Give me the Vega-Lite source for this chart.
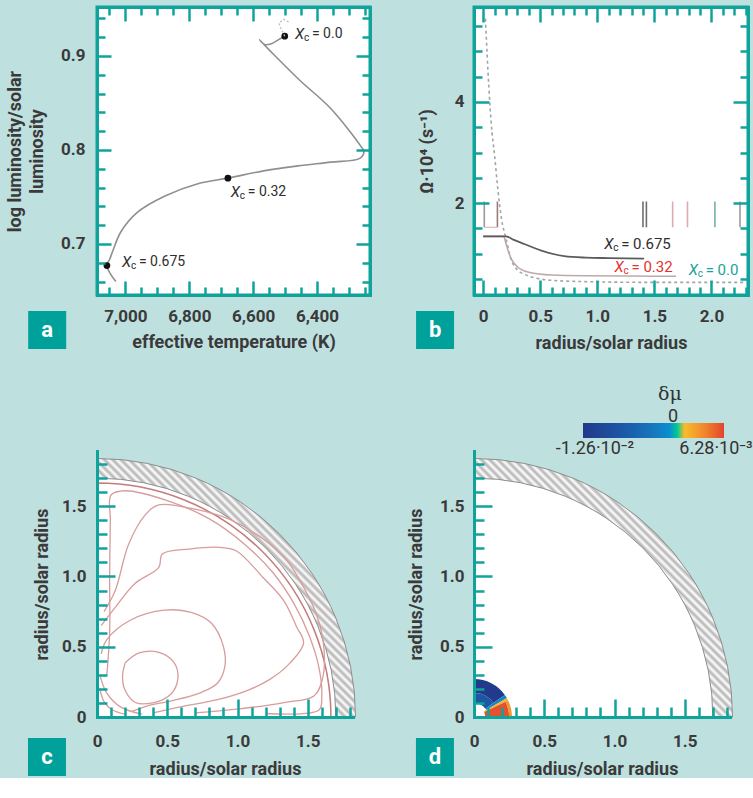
{
"$schema":"https://vega.github.io/schema/vega-lite/v6.json",
"background":"#bee0df",
"padding":{"left":5,"top":4,"right":0,"bottom":0},
"config":{
 "font":"Roboto",
 "view":{"stroke":null},
 "axis":{"zindex":1,"grid":false,"domainColor":"#0fa39b","domainWidth":3,"domainCap":"square","tickColor":"#0fa39b","tickWidth":2.5,"labelFont":"Roboto","labelFontSize":17,"labelFontWeight":"bold","labelColor":"#3a3a3a","labelOverlap":false,"labelFlush":false,"titleFont":"Roboto","titleFontSize":18,"titleFontWeight":"bold","titleColor":"#3a3a3a"}
},
"datasets":{
 "a_track":[{"i":1,"T":7030,"L":0.660},{"i":2,"T":7045,"L":0.667},{"i":3,"T":7058,"L":0.677},{"i":4,"T":7049,"L":0.684},{"i":5,"T":7039,"L":0.693},{"i":6,"T":7014,"L":0.713},{"i":7,"T":6961,"L":0.734},{"i":8,"T":6876,"L":0.751},{"i":9,"T":6773,"L":0.764},{"i":10,"T":6679,"L":0.770},{"i":11,"T":6563,"L":0.778},{"i":12,"T":6460,"L":0.783},{"i":13,"T":6357,"L":0.787},{"i":14,"T":6266,"L":0.791},{"i":15,"T":6253,"L":0.798},{"i":16,"T":6263,"L":0.804},{"i":17,"T":6357,"L":0.844},{"i":18,"T":6460,"L":0.876},{"i":19,"T":6580,"L":0.917},{"i":20,"T":6564,"L":0.912},{"i":21,"T":6543,"L":0.913},{"i":22,"T":6517,"L":0.918},{"i":23,"T":6501,"L":0.921}],
 "a_dash":[{"i":1,"T":6501,"L":0.921},{"i":2,"T":6513,"L":0.929},{"i":3,"T":6519,"L":0.935},{"i":4,"T":6505,"L":0.939},{"i":5,"T":6488,"L":0.936}],
 "a_dots":[{"T":7058,"L":0.677},{"T":6679,"L":0.770},{"T":6501,"L":0.921}],
 "a_labels":[{"T":7011,"L":0.681,"v":"= 0.675"},{"T":6670,"L":0.755,"v":"= 0.32"},{"T":6469,"L":0.923,"v":"= 0.0"}],
 "a_box":[{"T":7245,"L":0.6085,"lab":"a"}],
 "b_0675":[{"r":0,"om":1.34},{"r":0.2,"om":1.34},{"r":0.27,"om":1.27},{"r":0.36,"om":1.19},{"r":0.51,"om":1.06},{"r":0.71,"om":0.95},{"r":0.9,"om":0.92},{"r":1.1,"om":0.91},{"r":1.41,"om":0.9}],
 "b_032":[{"r":0,"om":1.34},{"r":0.18,"om":1.34},{"r":0.2,"om":1.2},{"r":0.22,"om":1.05},{"r":0.25,"om":0.88},{"r":0.3,"om":0.74},{"r":0.4,"om":0.63},{"r":0.6,"om":0.575},{"r":0.9,"om":0.56},{"r":1.3,"om":0.555},{"r":1.69,"om":0.55}],
 "b_00":[{"r":0.02,"om":5.65},{"r":0.05,"om":4.3},{"r":0.07,"om":3.6},{"r":0.1,"om":2.95},{"r":0.13,"om":2.25},{"r":0.16,"om":1.7},{"r":0.2,"om":1.3},{"r":0.25,"om":0.85},{"r":0.35,"om":0.6},{"r":0.6,"om":0.47},{"r":1,"om":0.44},{"r":1.5,"om":0.43},{"r":2,"om":0.43},{"r":2.32,"om":0.43}],
 "b_marks":[{"r":0.01,"g":"a"},{"r":0.125,"g":"b"},{"r":1.4,"g":"c"},{"r":1.43,"g":"c"},{"r":1.66,"g":"d"},{"r":1.79,"g":"d"},{"r":2.03,"g":"e"},{"r":2.25,"g":"a"}],
 "b_bracket":[{"r":0.01,"r2":0.125,"om":1.52}],
 "b_labels":[{"r":1.06,"om":1.19,"v":"= 0.675"},{"r":1.15,"om":0.73,"v":"= 0.32"},{"r":1.8,"om":0.67,"v":"= 0.0"}],
 "b_box":[{"r":-0.421,"om":-0.515,"lab":"b"}],
 "disk":[{"r1":1.7}],
 "shell":[{"r0":1.7,"r1":1.84}],
 "c_ring":[{"r1":1.665}],
 "c_cont":[
  {"id":1,"i":1,"x":0.2,"y":0.385},{"id":1,"i":2,"x":0.3,"y":0.456},{"id":1,"i":3,"x":0.44,"y":0.46},{"id":1,"i":4,"x":0.55,"y":0.385},{"id":1,"i":5,"x":0.575,"y":0.268},{"id":1,"i":6,"x":0.525,"y":0.162},{"id":1,"i":7,"x":0.405,"y":0.103},{"id":1,"i":8,"x":0.273,"y":0.103},{"id":1,"i":9,"x":0.197,"y":0.197},{"id":1,"i":10,"x":0.182,"y":0.29},{"id":1,"i":11,"x":0.2,"y":0.385},
  {"id":2,"i":1,"x":0.03,"y":0.45},{"id":2,"i":2,"x":0.07,"y":0.55},{"id":2,"i":3,"x":0.24,"y":0.69},{"id":2,"i":4,"x":0.48,"y":0.76},{"id":2,"i":5,"x":0.67,"y":0.745},{"id":2,"i":6,"x":0.815,"y":0.667},{"id":2,"i":7,"x":0.9,"y":0.5},{"id":2,"i":8,"x":0.91,"y":0.36},{"id":2,"i":9,"x":0.86,"y":0.244},{"id":2,"i":10,"x":0.74,"y":0.174},{"id":2,"i":11,"x":0.53,"y":0.115},{"id":2,"i":12,"x":0.36,"y":0.08},{"id":2,"i":13,"x":0.25,"y":0.04},
  {"id":3,"i":1,"x":0.03,"y":0.65},{"id":3,"i":2,"x":0.13,"y":0.78},{"id":3,"i":3,"x":0.27,"y":0.95},{"id":3,"i":4,"x":0.44,"y":1.065},{"id":3,"i":5,"x":0.465,"y":1.16},{"id":3,"i":6,"x":0.657,"y":1.195},{"id":3,"i":7,"x":0.873,"y":1.207},{"id":3,"i":8,"x":0.99,"y":1.183},{"id":3,"i":9,"x":1.18,"y":0.995},{"id":3,"i":10,"x":1.328,"y":0.83},{"id":3,"i":11,"x":1.42,"y":0.643},{"id":3,"i":12,"x":1.47,"y":0.526},{"id":3,"i":13,"x":1.35,"y":0.36},{"id":3,"i":14,"x":1.23,"y":0.268},{"id":3,"i":15,"x":1.09,"y":0.197},{"id":3,"i":16,"x":0.873,"y":0.127},{"id":3,"i":17,"x":0.585,"y":0.07},{"id":3,"i":18,"x":0.4,"y":0.03},
  {"id":4,"i":1,"x":0.05,"y":0.75},{"id":4,"i":2,"x":0.13,"y":0.9},{"id":4,"i":3,"x":0.225,"y":1.23},{"id":4,"i":4,"x":0.345,"y":1.44},{"id":4,"i":5,"x":0.44,"y":1.51},{"id":4,"i":6,"x":0.705,"y":1.477},{"id":4,"i":7,"x":0.945,"y":1.406},{"id":4,"i":8,"x":1.185,"y":1.265},{"id":4,"i":9,"x":1.352,"y":1.113},{"id":4,"i":10,"x":1.47,"y":0.925},{"id":4,"i":11,"x":1.568,"y":0.713},{"id":4,"i":12,"x":1.616,"y":0.479},{"id":4,"i":13,"x":1.604,"y":0.268},{"id":4,"i":14,"x":1.544,"y":0.15},{"id":4,"i":15,"x":1.33,"y":0.103},{"id":4,"i":16,"x":0.995,"y":0.056},{"id":4,"i":17,"x":0.7,"y":0.03},
  {"id":5,"i":1,"x":0.07,"y":0.3},{"id":5,"i":2,"x":0.09,"y":0.6},{"id":5,"i":3,"x":0.09,"y":1.0},{"id":5,"i":4,"x":0.095,"y":1.4},{"id":5,"i":5,"x":0.1,"y":1.58},{"id":5,"i":6,"x":0.2,"y":1.61},{"id":5,"i":7,"x":0.5,"y":1.54},{"id":5,"i":8,"x":0.8,"y":1.41},{"id":5,"i":9,"x":1.05,"y":1.23},{"id":5,"i":10,"x":1.25,"y":1.03},{"id":5,"i":11,"x":1.4,"y":0.81},{"id":5,"i":12,"x":1.51,"y":0.58},{"id":5,"i":13,"x":1.58,"y":0.35},{"id":5,"i":14,"x":1.6,"y":0.15},{"id":5,"i":15,"x":1.58,"y":0.05},{"id":5,"i":16,"x":1.2,"y":0.025},
  {"id":6,"i":1,"x":0.02,"y":0.3},{"id":6,"i":2,"x":0.07,"y":0.17},{"id":6,"i":3,"x":0.17,"y":0.07},{"id":6,"i":4,"x":0.32,"y":0.02},
  {"id":7,"i":1,"x":0.02,"y":0.2},{"id":7,"i":2,"x":0.05,"y":0.11},{"id":7,"i":3,"x":0.11,"y":0.05},{"id":7,"i":4,"x":0.2,"y":0.02}],
 "c_box":[{"x":-0.356,"y":-0.285,"lab":"c"}],
 "d_blob":[{"t0":0,"t1":0.95,"r0":0.17,"r1":0.27,"dmu":-0.0124},{"t0":0,"t1":0.95,"r0":0.1,"r1":0.17,"dmu":-0.0075},{"t0":0.95,"t1":1.05,"r0":0.1,"r1":0.27,"dmu":-0.002},{"t0":1.05,"t1":1.12,"r0":0.08,"r1":0.27,"dmu":0.0015},{"t0":1.12,"t1":1.5708,"r0":0.08,"r1":0.25,"dmu":0.0058},{"t0":1.12,"t1":1.5708,"r0":0.25,"r1":0.27,"dmu":0.003}],
 "d_mu":[{"x":1.395,"y":2.3,"t":"δμ"}],
 "d_zero":[{"x":1.416,"y":2.135,"t":"0"}],
 "d_cblab":[{"x":0.861,"y":1.907,"t":"-1.26·10⁻²"},{"x":1.722,"y":1.907,"t":"6.28·10⁻³"}],
 "d_box":[{"x":-0.278,"y":-0.285,"lab":"d"}]
},
"columns":2,
"spacing":{"row":156,"column":103},
"bounds":"flush",
"align":"all",
"concat":[
 {
  "width":273,"height":288,
  "view":{"stroke":"#0fa39b","strokeWidth":3,"fill":"white"},
  "resolve":{"axis":{"x":"independent","y":"independent"}},
  "layer":[
   {"data":{"name":"a_track"},"mark":{"type":"line","color":"#8f8f8f","strokeWidth":1.6,"interpolate":"catmull-rom"},
    "encoding":{
     "x":{"field":"T","type":"quantitative","scale":{"domain":[6234,7089],"reverse":true,"nice":false,"zero":false},
      "axis":{"zindex":1,"orient":"bottom","values":[7050,7000,6950,6900,6850,6800,6750,6700,6650,6600,6550,6500,6450,6400,6350,6300,6250],"labelExpr":"datum.value % 200 === 0 ? format(datum.value, ',') : ''","tickSize":{"condition":{"test":"datum.value % 200 === 0","value":-14},"value":-8},"labelPadding":27,"title":"effective temperature (K)","titlePadding":3}},
     "y":{"field":"L","type":"quantitative","scale":{"domain":[0.6457,0.952],"nice":false,"zero":false},
      "axis":{"zindex":1,"orient":"left","values":[0.66,0.68,0.7,0.72,0.74,0.76,0.78,0.8,0.82,0.84,0.86,0.88,0.9,0.92,0.94],"labelExpr":"abs(datum.value*10-round(datum.value*10))<0.001 ? format(datum.value,'.1f') : ''","tickSize":{"condition":{"test":"abs(datum.value*10-round(datum.value*10))<0.001","value":-14},"value":-8},"labelPadding":26,"title":["log luminosity/solar","luminosity"],"titlePadding":14,"titleLineHeight":22}},
     "order":{"field":"i","type":"quantitative"}}},
   {"data":{"name":"a_dots"},"mark":{"type":"point","filled":true,"color":"#111111","size":45,"opacity":1},
    "encoding":{
     "x":{"field":"T","type":"quantitative","axis":{"zindex":1,"orient":"top","values":[7050,7000,6950,6900,6850,6800,6750,6700,6650,6600,6550,6500,6450,6400,6350,6300,6250],"labels":false,"tickSize":{"condition":{"test":"datum.value % 200 === 0","value":-14},"value":-8},"title":null}},
     "y":{"field":"L","type":"quantitative","axis":{"zindex":1,"orient":"right","values":[0.66,0.68,0.7,0.72,0.74,0.76,0.78,0.8,0.82,0.84,0.86,0.88,0.9,0.92,0.94],"labels":false,"tickSize":{"condition":{"test":"abs(datum.value*10-round(datum.value*10))<0.001","value":-14},"value":-8},"title":null}}}},
   {"data":{"name":"a_dash"},"mark":{"type":"line","color":"#b8b8b8","strokeWidth":1.2,"strokeDash":[2,2]},
    "encoding":{"x":{"field":"T","type":"quantitative","axis":null},"y":{"field":"L","type":"quantitative","axis":null},"order":{"field":"i","type":"quantitative"}}},
   {"data":{"name":"a_labels"},"mark":{"type":"text","text":"X","font":"Roboto","fontStyle":"italic","fontSize":15,"align":"left","baseline":"middle","color":"#2e2e2e"},
    "encoding":{"x":{"field":"T","type":"quantitative","axis":null},"y":{"field":"L","type":"quantitative","axis":null}}},
   {"data":{"name":"a_labels"},"mark":{"type":"text","text":"c","font":"Roboto","fontSize":10,"dx":9,"dy":4,"align":"left","baseline":"middle","color":"#2e2e2e"},
    "encoding":{"x":{"field":"T","type":"quantitative","axis":null},"y":{"field":"L","type":"quantitative","axis":null}}},
   {"data":{"name":"a_labels"},"mark":{"type":"text","font":"Roboto","fontSize":14,"dx":17,"align":"left","baseline":"middle","color":"#2e2e2e"},
    "encoding":{"x":{"field":"T","type":"quantitative","axis":null},"y":{"field":"L","type":"quantitative","axis":null},"text":{"field":"v"}}},
   {"data":{"name":"a_box"},"mark":{"type":"point","shape":"square","filled":true,"size":1444,"color":"#00a19a","opacity":1},
    "encoding":{"x":{"field":"T","type":"quantitative","axis":null},"y":{"field":"L","type":"quantitative","axis":null}}},
   {"data":{"name":"a_box"},"mark":{"type":"text","font":"Roboto","fontWeight":"bold","fontSize":22,"color":"white","baseline":"middle","align":"center"},
    "encoding":{"x":{"field":"T","type":"quantitative","axis":null},"y":{"field":"L","type":"quantitative","axis":null},"text":{"field":"lab"}}}
  ]
 },
 {
  "width":274,"height":288,
  "view":{"stroke":"#0fa39b","strokeWidth":3,"fill":"white"},
  "resolve":{"axis":{"x":"independent","y":"independent"}},
  "layer":[
   {"data":{"name":"b_00"},"mark":{"type":"line","color":"#9ea6a6","strokeWidth":1.6,"strokeDash":[3,3],"interpolate":"monotone"},
    "encoding":{
     "x":{"field":"r","type":"quantitative","scale":{"domain":[-0.08,2.32],"nice":false,"zero":false},
      "axis":{"zindex":1,"orient":"bottom","values":[0,0.1,0.2,0.3,0.4,0.5,0.6,0.7,0.8,0.9,1,1.1,1.2,1.3,1.4,1.5,1.6,1.7,1.8,1.9,2,2.1,2.2,2.3],"labelExpr":"abs(datum.value*2-round(datum.value*2))<0.001 ? (datum.value === 0 ? '0' : format(datum.value,'.1f')) : ''","tickSize":{"condition":{"test":"abs(datum.value*2-round(datum.value*2))<0.001","value":-15},"value":-8},"labelPadding":28,"title":"radius/solar radius","titlePadding":3}},
     "y":{"field":"om","type":"quantitative","scale":{"domain":[0.18,5.88],"nice":false,"zero":false},
      "axis":{"zindex":1,"orient":"left","values":[0.5,1,1.5,2,2.5,3,3.5,4,4.5,5,5.5],"labelExpr":"datum.value % 2 === 0 ? format(datum.value,'d') : ''","tickSize":{"condition":{"test":"datum.value % 2 === 0","value":-15},"value":-8},"labelPadding":25,"title":"Ω·10⁴ (s⁻¹)","titlePadding":18}}}},
   {"data":{"name":"b_marks"},"mark":{"type":"rule","strokeWidth":1.6},
    "encoding":{
     "x":{"field":"r","type":"quantitative","axis":{"zindex":1,"orient":"top","values":[0,0.1,0.2,0.3,0.4,0.5,0.6,0.7,0.8,0.9,1,1.1,1.2,1.3,1.4,1.5,1.6,1.7,1.8,1.9,2,2.1,2.2,2.3],"labels":false,"tickSize":{"condition":{"test":"abs(datum.value*2-round(datum.value*2))<0.001","value":-15},"value":-8},"title":null}},
     "y":{"datum":1.52,"type":"quantitative","axis":{"zindex":1,"orient":"right","values":[0.5,1,1.5,2,2.5,3,3.5,4,4.5,5,5.5],"labels":false,"tickSize":{"condition":{"test":"datum.value % 2 === 0","value":-15},"value":-8},"title":null}},
     "y2":{"datum":2.03},
     "color":{"field":"g","type":"nominal","scale":{"domain":["a","b","c","d","e"],"range":["#9a9a9a","#9c7a7a","#6e6e6e","#dcaab2","#78b0a6"]},"legend":null}}},
   {"data":{"name":"b_bracket"},"mark":{"type":"rule","strokeWidth":1.2,"color":"#dcbcbc"},
    "encoding":{"x":{"field":"r","type":"quantitative","axis":null},"x2":{"field":"r2"},"y":{"field":"om","type":"quantitative","axis":null}}},
   {"data":{"name":"b_032"},"mark":{"type":"line","color":"#bcaaaa","strokeWidth":1.6,"interpolate":"monotone"},
    "encoding":{"x":{"field":"r","type":"quantitative","axis":null},"y":{"field":"om","type":"quantitative","axis":null}}},
   {"data":{"name":"b_0675"},"mark":{"type":"line","color":"#5c5c5c","strokeWidth":1.8,"interpolate":"monotone"},
    "encoding":{"x":{"field":"r","type":"quantitative","axis":null},"y":{"field":"om","type":"quantitative","axis":null}}},
   {"data":{"name":"b_labels"},"mark":{"type":"text","text":"X","font":"Roboto","fontStyle":"italic","fontSize":15,"align":"left","baseline":"middle"},
    "encoding":{"x":{"field":"r","type":"quantitative","axis":null},"y":{"field":"om","type":"quantitative","axis":null},
     "color":{"condition":[{"test":"datum.v === '= 0.32'","value":"#e2322d"},{"test":"datum.v === '= 0.0'","value":"#17a39a"}],"value":"#2e2e2e"}}},
   {"data":{"name":"b_labels"},"mark":{"type":"text","text":"c","font":"Roboto","fontSize":10,"dx":9,"dy":4,"align":"left","baseline":"middle"},
    "encoding":{"x":{"field":"r","type":"quantitative","axis":null},"y":{"field":"om","type":"quantitative","axis":null},
     "color":{"condition":[{"test":"datum.v === '= 0.32'","value":"#e2322d"},{"test":"datum.v === '= 0.0'","value":"#17a39a"}],"value":"#2e2e2e"}}},
   {"data":{"name":"b_labels"},"mark":{"type":"text","font":"Roboto","fontSize":15,"dx":17,"align":"left","baseline":"middle"},
    "encoding":{"x":{"field":"r","type":"quantitative","axis":null},"y":{"field":"om","type":"quantitative","axis":null},"text":{"field":"v"},
     "color":{"condition":[{"test":"datum.v === '= 0.32'","value":"#e2322d"},{"test":"datum.v === '= 0.0'","value":"#17a39a"}],"value":"#2e2e2e"}}},
   {"data":{"name":"b_box"},"mark":{"type":"point","shape":"square","filled":true,"size":1444,"color":"#00a19a","opacity":1},
    "encoding":{"x":{"field":"r","type":"quantitative","axis":null},"y":{"field":"om","type":"quantitative","axis":null}}},
   {"data":{"name":"b_box"},"mark":{"type":"text","font":"Roboto","fontWeight":"bold","fontSize":22,"color":"white","baseline":"middle","align":"center"},
    "encoding":{"x":{"field":"r","type":"quantitative","axis":null},"y":{"field":"om","type":"quantitative","axis":null},"text":{"field":"lab"}}}
  ]
 },
 {
  "width":256,"height":266,
  "resolve":{"axis":{"x":"independent","y":"independent"}},
  "layer":[
   {"data":{"name":"disk"},"mark":{"type":"arc","theta":0,"theta2":1.5708,"fill":"white","stroke":null},
    "encoding":{
     "x":{"datum":0,"type":"quantitative","axis":null},
     "y":{"datum":0,"type":"quantitative","axis":null},
     "radius":{"field":"r1","type":"quantitative","scale":{"type":"linear","domain":[0,1.822],"range":[0,256],"zero":true,"nice":false}}}},
   {"data":{"name":"shell"},"mark":{"type":"arc","theta":0,"theta2":1.5708,"stroke":"#8d8d8d","strokeWidth":1,"fill":{"gradient":"linear","x1":0,"y1":1,"x2":1,"y2":0,"stops":[
{"offset":0,"color":"#b4b4b4"},{"offset":0.008,"color":"#ffffff"},{"offset":0.016,"color":"#b4b4b4"},{"offset":0.024,"color":"#ffffff"},{"offset":0.032,"color":"#b4b4b4"},{"offset":0.04,"color":"#ffffff"},{"offset":0.048,"color":"#b4b4b4"},{"offset":0.056,"color":"#ffffff"},{"offset":0.064,"color":"#b4b4b4"},{"offset":0.072,"color":"#ffffff"},{"offset":0.08,"color":"#b4b4b4"},{"offset":0.088,"color":"#ffffff"},{"offset":0.096,"color":"#b4b4b4"},{"offset":0.104,"color":"#ffffff"},{"offset":0.112,"color":"#b4b4b4"},{"offset":0.12,"color":"#ffffff"},{"offset":0.128,"color":"#b4b4b4"},{"offset":0.136,"color":"#ffffff"},{"offset":0.144,"color":"#b4b4b4"},{"offset":0.152,"color":"#ffffff"},{"offset":0.16,"color":"#b4b4b4"},{"offset":0.168,"color":"#ffffff"},{"offset":0.176,"color":"#b4b4b4"},{"offset":0.184,"color":"#ffffff"},{"offset":0.192,"color":"#b4b4b4"},{"offset":0.2,"color":"#ffffff"},{"offset":0.208,"color":"#b4b4b4"},{"offset":0.216,"color":"#ffffff"},{"offset":0.224,"color":"#b4b4b4"},{"offset":0.232,"color":"#ffffff"},{"offset":0.24,"color":"#b4b4b4"},{"offset":0.248,"color":"#ffffff"},{"offset":0.256,"color":"#b4b4b4"},{"offset":0.264,"color":"#ffffff"},{"offset":0.272,"color":"#b4b4b4"},{"offset":0.28,"color":"#ffffff"},{"offset":0.288,"color":"#b4b4b4"},{"offset":0.296,"color":"#ffffff"},{"offset":0.304,"color":"#b4b4b4"},{"offset":0.312,"color":"#ffffff"},{"offset":0.32,"color":"#b4b4b4"},{"offset":0.328,"color":"#ffffff"},{"offset":0.336,"color":"#b4b4b4"},{"offset":0.344,"color":"#ffffff"},{"offset":0.352,"color":"#b4b4b4"},{"offset":0.36,"color":"#ffffff"},{"offset":0.368,"color":"#b4b4b4"},{"offset":0.376,"color":"#ffffff"},{"offset":0.384,"color":"#b4b4b4"},{"offset":0.392,"color":"#ffffff"},{"offset":0.4,"color":"#b4b4b4"},{"offset":0.408,"color":"#ffffff"},{"offset":0.416,"color":"#b4b4b4"},{"offset":0.424,"color":"#ffffff"},{"offset":0.432,"color":"#b4b4b4"},{"offset":0.44,"color":"#ffffff"},{"offset":0.448,"color":"#b4b4b4"},{"offset":0.456,"color":"#ffffff"},{"offset":0.464,"color":"#b4b4b4"},{"offset":0.472,"color":"#ffffff"},{"offset":0.48,"color":"#b4b4b4"},{"offset":0.488,"color":"#ffffff"},{"offset":0.496,"color":"#b4b4b4"},{"offset":0.504,"color":"#ffffff"},{"offset":0.512,"color":"#b4b4b4"},{"offset":0.52,"color":"#ffffff"},{"offset":0.528,"color":"#b4b4b4"},{"offset":0.536,"color":"#ffffff"},{"offset":0.544,"color":"#b4b4b4"},{"offset":0.552,"color":"#ffffff"},{"offset":0.56,"color":"#b4b4b4"},{"offset":0.568,"color":"#ffffff"},{"offset":0.576,"color":"#b4b4b4"},{"offset":0.584,"color":"#ffffff"},{"offset":0.592,"color":"#b4b4b4"},{"offset":0.6,"color":"#ffffff"},{"offset":0.608,"color":"#b4b4b4"},{"offset":0.616,"color":"#ffffff"},{"offset":0.624,"color":"#b4b4b4"},{"offset":0.632,"color":"#ffffff"},{"offset":0.64,"color":"#b4b4b4"},{"offset":0.648,"color":"#ffffff"},{"offset":0.656,"color":"#b4b4b4"},{"offset":0.664,"color":"#ffffff"},{"offset":0.672,"color":"#b4b4b4"},{"offset":0.68,"color":"#ffffff"},{"offset":0.688,"color":"#b4b4b4"},{"offset":0.696,"color":"#ffffff"},{"offset":0.704,"color":"#b4b4b4"},{"offset":0.712,"color":"#ffffff"},{"offset":0.72,"color":"#b4b4b4"},{"offset":0.728,"color":"#ffffff"},{"offset":0.736,"color":"#b4b4b4"},{"offset":0.744,"color":"#ffffff"},{"offset":0.752,"color":"#b4b4b4"},{"offset":0.76,"color":"#ffffff"},{"offset":0.768,"color":"#b4b4b4"},{"offset":0.776,"color":"#ffffff"},{"offset":0.784,"color":"#b4b4b4"},{"offset":0.792,"color":"#ffffff"},{"offset":0.8,"color":"#b4b4b4"},{"offset":0.808,"color":"#ffffff"},{"offset":0.816,"color":"#b4b4b4"},{"offset":0.824,"color":"#ffffff"},{"offset":0.832,"color":"#b4b4b4"},{"offset":0.84,"color":"#ffffff"},{"offset":0.848,"color":"#b4b4b4"},{"offset":0.856,"color":"#ffffff"},{"offset":0.864,"color":"#b4b4b4"},{"offset":0.872,"color":"#ffffff"},{"offset":0.88,"color":"#b4b4b4"},{"offset":0.888,"color":"#ffffff"},{"offset":0.896,"color":"#b4b4b4"},{"offset":0.904,"color":"#ffffff"},{"offset":0.912,"color":"#b4b4b4"},{"offset":0.92,"color":"#ffffff"},{"offset":0.928,"color":"#b4b4b4"},{"offset":0.936,"color":"#ffffff"},{"offset":0.944,"color":"#b4b4b4"},{"offset":0.952,"color":"#ffffff"},{"offset":0.96,"color":"#b4b4b4"},{"offset":0.968,"color":"#ffffff"},{"offset":0.976,"color":"#b4b4b4"},{"offset":0.984,"color":"#ffffff"},{"offset":0.992,"color":"#b4b4b4"},{"offset":1,"color":"#ffffff"}]}},
    "encoding":{"x":{"datum":0,"type":"quantitative","axis":null},"y":{"datum":0,"type":"quantitative","axis":null},
     "radius":{"field":"r1","type":"quantitative"},"radius2":{"field":"r0"}}},
   {"data":{"name":"c_ring"},"mark":{"type":"arc","theta":0,"theta2":1.5708,"filled":false,"stroke":"#c47c7c","strokeWidth":1.5},
    "encoding":{"x":{"datum":0,"type":"quantitative","axis":null},"y":{"datum":0,"type":"quantitative","axis":null},
     "radius":{"field":"r1","type":"quantitative"}}},
   {"data":{"name":"c_cont"},"mark":{"type":"line","color":"#d89c9c","strokeWidth":1.3,"interpolate":"catmull-rom"},
    "encoding":{
     "x":{"field":"x","type":"quantitative","scale":{"domain":[0,1.822],"nice":false,"zero":false},
      "axis":{"zindex":1,"orient":"bottom","values":[0,0.1,0.2,0.3,0.4,0.5,0.6,0.7,0.8,0.9,1,1.1,1.2,1.3,1.4,1.5,1.6,1.7,1.8],"labelExpr":"abs(datum.value*2-round(datum.value*2))<0.001 ? (datum.value === 0 ? '0' : format(datum.value,'.1f')) : ''","tickSize":{"condition":{"test":"abs(datum.value*2-round(datum.value*2))<0.001","value":-18},"value":-10},"labelPadding":34,"title":"radius/solar radius","titlePadding":3}},
     "y":{"field":"y","type":"quantitative","scale":{"domain":[0,1.893],"nice":false,"zero":false},
      "axis":{"zindex":1,"orient":"left","values":[0,0.1,0.2,0.3,0.4,0.5,0.6,0.7,0.8,0.9,1,1.1,1.2,1.3,1.4,1.5,1.6,1.7,1.8],"labelExpr":"abs(datum.value*2-round(datum.value*2))<0.001 ? (datum.value === 0 ? '0' : format(datum.value,'.1f')) : ''","tickSize":{"condition":{"test":"abs(datum.value*2-round(datum.value*2))<0.001","value":-18},"value":-10},"labelPadding":29,"title":"radius/solar radius","titlePadding":10}},
     "detail":{"field":"id","type":"nominal"},"order":{"field":"i","type":"quantitative"}}},
   {"data":{"name":"c_box"},"mark":{"type":"point","shape":"square","filled":true,"size":1444,"color":"#00a19a","opacity":1},
    "encoding":{"x":{"field":"x","type":"quantitative","axis":null},"y":{"field":"y","type":"quantitative","axis":null}}},
   {"data":{"name":"c_box"},"mark":{"type":"text","font":"Roboto","fontWeight":"bold","fontSize":22,"color":"white","baseline":"middle","align":"center"},
    "encoding":{"x":{"field":"x","type":"quantitative","axis":null},"y":{"field":"y","type":"quantitative","axis":null},"text":{"field":"lab"}}}
  ]
 },
 {
  "width":256,"height":266,
  "resolve":{"axis":{"x":"independent","y":"independent"}},
  "layer":[
   {"data":{"name":"disk"},"mark":{"type":"arc","theta":0,"theta2":1.5708,"fill":"white","stroke":null},
    "encoding":{
     "x":{"datum":0,"type":"quantitative","axis":null},
     "y":{"datum":0,"type":"quantitative","axis":null},
     "radius":{"field":"r1","type":"quantitative","scale":{"type":"linear","domain":[0,1.822],"range":[0,256],"zero":true,"nice":false}}}},
   {"data":{"name":"shell"},"mark":{"type":"arc","theta":0,"theta2":1.5708,"stroke":"#8d8d8d","strokeWidth":1,"fill":{"gradient":"linear","x1":0,"y1":1,"x2":1,"y2":0,"stops":[
{"offset":0,"color":"#b4b4b4"},{"offset":0.008,"color":"#ffffff"},{"offset":0.016,"color":"#b4b4b4"},{"offset":0.024,"color":"#ffffff"},{"offset":0.032,"color":"#b4b4b4"},{"offset":0.04,"color":"#ffffff"},{"offset":0.048,"color":"#b4b4b4"},{"offset":0.056,"color":"#ffffff"},{"offset":0.064,"color":"#b4b4b4"},{"offset":0.072,"color":"#ffffff"},{"offset":0.08,"color":"#b4b4b4"},{"offset":0.088,"color":"#ffffff"},{"offset":0.096,"color":"#b4b4b4"},{"offset":0.104,"color":"#ffffff"},{"offset":0.112,"color":"#b4b4b4"},{"offset":0.12,"color":"#ffffff"},{"offset":0.128,"color":"#b4b4b4"},{"offset":0.136,"color":"#ffffff"},{"offset":0.144,"color":"#b4b4b4"},{"offset":0.152,"color":"#ffffff"},{"offset":0.16,"color":"#b4b4b4"},{"offset":0.168,"color":"#ffffff"},{"offset":0.176,"color":"#b4b4b4"},{"offset":0.184,"color":"#ffffff"},{"offset":0.192,"color":"#b4b4b4"},{"offset":0.2,"color":"#ffffff"},{"offset":0.208,"color":"#b4b4b4"},{"offset":0.216,"color":"#ffffff"},{"offset":0.224,"color":"#b4b4b4"},{"offset":0.232,"color":"#ffffff"},{"offset":0.24,"color":"#b4b4b4"},{"offset":0.248,"color":"#ffffff"},{"offset":0.256,"color":"#b4b4b4"},{"offset":0.264,"color":"#ffffff"},{"offset":0.272,"color":"#b4b4b4"},{"offset":0.28,"color":"#ffffff"},{"offset":0.288,"color":"#b4b4b4"},{"offset":0.296,"color":"#ffffff"},{"offset":0.304,"color":"#b4b4b4"},{"offset":0.312,"color":"#ffffff"},{"offset":0.32,"color":"#b4b4b4"},{"offset":0.328,"color":"#ffffff"},{"offset":0.336,"color":"#b4b4b4"},{"offset":0.344,"color":"#ffffff"},{"offset":0.352,"color":"#b4b4b4"},{"offset":0.36,"color":"#ffffff"},{"offset":0.368,"color":"#b4b4b4"},{"offset":0.376,"color":"#ffffff"},{"offset":0.384,"color":"#b4b4b4"},{"offset":0.392,"color":"#ffffff"},{"offset":0.4,"color":"#b4b4b4"},{"offset":0.408,"color":"#ffffff"},{"offset":0.416,"color":"#b4b4b4"},{"offset":0.424,"color":"#ffffff"},{"offset":0.432,"color":"#b4b4b4"},{"offset":0.44,"color":"#ffffff"},{"offset":0.448,"color":"#b4b4b4"},{"offset":0.456,"color":"#ffffff"},{"offset":0.464,"color":"#b4b4b4"},{"offset":0.472,"color":"#ffffff"},{"offset":0.48,"color":"#b4b4b4"},{"offset":0.488,"color":"#ffffff"},{"offset":0.496,"color":"#b4b4b4"},{"offset":0.504,"color":"#ffffff"},{"offset":0.512,"color":"#b4b4b4"},{"offset":0.52,"color":"#ffffff"},{"offset":0.528,"color":"#b4b4b4"},{"offset":0.536,"color":"#ffffff"},{"offset":0.544,"color":"#b4b4b4"},{"offset":0.552,"color":"#ffffff"},{"offset":0.56,"color":"#b4b4b4"},{"offset":0.568,"color":"#ffffff"},{"offset":0.576,"color":"#b4b4b4"},{"offset":0.584,"color":"#ffffff"},{"offset":0.592,"color":"#b4b4b4"},{"offset":0.6,"color":"#ffffff"},{"offset":0.608,"color":"#b4b4b4"},{"offset":0.616,"color":"#ffffff"},{"offset":0.624,"color":"#b4b4b4"},{"offset":0.632,"color":"#ffffff"},{"offset":0.64,"color":"#b4b4b4"},{"offset":0.648,"color":"#ffffff"},{"offset":0.656,"color":"#b4b4b4"},{"offset":0.664,"color":"#ffffff"},{"offset":0.672,"color":"#b4b4b4"},{"offset":0.68,"color":"#ffffff"},{"offset":0.688,"color":"#b4b4b4"},{"offset":0.696,"color":"#ffffff"},{"offset":0.704,"color":"#b4b4b4"},{"offset":0.712,"color":"#ffffff"},{"offset":0.72,"color":"#b4b4b4"},{"offset":0.728,"color":"#ffffff"},{"offset":0.736,"color":"#b4b4b4"},{"offset":0.744,"color":"#ffffff"},{"offset":0.752,"color":"#b4b4b4"},{"offset":0.76,"color":"#ffffff"},{"offset":0.768,"color":"#b4b4b4"},{"offset":0.776,"color":"#ffffff"},{"offset":0.784,"color":"#b4b4b4"},{"offset":0.792,"color":"#ffffff"},{"offset":0.8,"color":"#b4b4b4"},{"offset":0.808,"color":"#ffffff"},{"offset":0.816,"color":"#b4b4b4"},{"offset":0.824,"color":"#ffffff"},{"offset":0.832,"color":"#b4b4b4"},{"offset":0.84,"color":"#ffffff"},{"offset":0.848,"color":"#b4b4b4"},{"offset":0.856,"color":"#ffffff"},{"offset":0.864,"color":"#b4b4b4"},{"offset":0.872,"color":"#ffffff"},{"offset":0.88,"color":"#b4b4b4"},{"offset":0.888,"color":"#ffffff"},{"offset":0.896,"color":"#b4b4b4"},{"offset":0.904,"color":"#ffffff"},{"offset":0.912,"color":"#b4b4b4"},{"offset":0.92,"color":"#ffffff"},{"offset":0.928,"color":"#b4b4b4"},{"offset":0.936,"color":"#ffffff"},{"offset":0.944,"color":"#b4b4b4"},{"offset":0.952,"color":"#ffffff"},{"offset":0.96,"color":"#b4b4b4"},{"offset":0.968,"color":"#ffffff"},{"offset":0.976,"color":"#b4b4b4"},{"offset":0.984,"color":"#ffffff"},{"offset":0.992,"color":"#b4b4b4"},{"offset":1,"color":"#ffffff"}]}},
    "encoding":{"x":{"datum":0,"type":"quantitative","axis":null},"y":{"datum":0,"type":"quantitative","axis":null},
     "radius":{"field":"r1","type":"quantitative"},"radius2":{"field":"r0"}}},
   {"data":{"name":"d_blob"},"mark":{"type":"arc","stroke":null},
    "encoding":{"x":{"datum":0,"type":"quantitative","axis":null},"y":{"datum":0,"type":"quantitative","axis":null},
     "radius":{"field":"r1","type":"quantitative"},"radius2":{"field":"r0"},
     "theta":{"field":"t0","type":"quantitative","scale":null,"stack":null},"theta2":{"field":"t1"},
     "color":{"field":"dmu","type":"quantitative","scale":{"domain":[-0.0126,-0.0085,-0.004,-0.0001,0.0001,0.003,0.00628],"range":["#22398a","#1f4f9f","#1870b8","#0b97d6","#f9cc2e","#f2952f","#e2432f"]},
      "legend":{"orient":"none","legendX":109,"legendY":-28,"direction":"horizontal","gradientLength":141,"gradientThickness":15,"title":null,"padding":0,"labelExpr":"''","labelOpacity":0,"labelFontSize":1,"gradientStrokeWidth":0}}}},
   {"data":{"name":"d_box"},"mark":{"type":"point","shape":"square","filled":true,"size":1444,"color":"#00a19a","opacity":1},
    "encoding":{
     "x":{"field":"x","type":"quantitative","scale":{"domain":[0,1.822],"nice":false,"zero":false},
      "axis":{"zindex":1,"orient":"bottom","values":[0,0.1,0.2,0.3,0.4,0.5,0.6,0.7,0.8,0.9,1,1.1,1.2,1.3,1.4,1.5,1.6,1.7,1.8],"labelExpr":"abs(datum.value*2-round(datum.value*2))<0.001 ? (datum.value === 0 ? '0' : format(datum.value,'.1f')) : ''","tickSize":{"condition":{"test":"abs(datum.value*2-round(datum.value*2))<0.001","value":-18},"value":-10},"labelPadding":34,"title":"radius/solar radius","titlePadding":3}},
     "y":{"field":"y","type":"quantitative","scale":{"domain":[0,1.893],"nice":false,"zero":false},
      "axis":{"zindex":1,"orient":"left","values":[0,0.1,0.2,0.3,0.4,0.5,0.6,0.7,0.8,0.9,1,1.1,1.2,1.3,1.4,1.5,1.6,1.7,1.8],"labelExpr":"abs(datum.value*2-round(datum.value*2))<0.001 ? (datum.value === 0 ? '0' : format(datum.value,'.1f')) : ''","tickSize":{"condition":{"test":"abs(datum.value*2-round(datum.value*2))<0.001","value":-18},"value":-10},"labelPadding":28,"title":"radius/solar radius","titlePadding":14}}}},
   {"data":{"name":"d_box"},"mark":{"type":"text","font":"Roboto","fontWeight":"bold","fontSize":22,"color":"white","baseline":"middle","align":"center"},
    "encoding":{"x":{"field":"x","type":"quantitative","axis":null},"y":{"field":"y","type":"quantitative","axis":null},"text":{"field":"lab"}}},
   {"data":{"name":"d_mu"},"mark":{"type":"text","font":"DejaVu Serif","fontSize":19,"color":"#333333","align":"center","baseline":"middle"},
    "encoding":{"x":{"field":"x","type":"quantitative","axis":null},"y":{"field":"y","type":"quantitative","axis":null},"text":{"field":"t"}}},
   {"data":{"name":"d_zero"},"mark":{"type":"text","font":"Roboto","fontSize":18,"color":"#333333","align":"center","baseline":"middle"},
    "encoding":{"x":{"field":"x","type":"quantitative","axis":null},"y":{"field":"y","type":"quantitative","axis":null},"text":{"field":"t"}}},
   {"data":{"name":"d_cblab"},"mark":{"type":"text","font":"Roboto","fontSize":18,"color":"#333333","align":"center","baseline":"middle"},
    "encoding":{"x":{"field":"x","type":"quantitative","axis":null},"y":{"field":"y","type":"quantitative","axis":null},"text":{"field":"t"}}}
  ]
 }
]
}
